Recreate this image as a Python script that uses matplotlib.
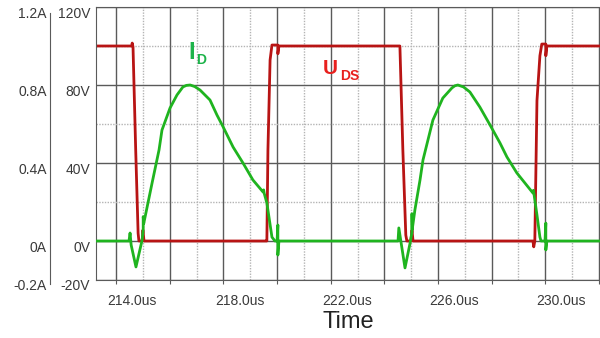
import numpy as np
import matplotlib.pyplot as plt
from matplotlib.transforms import ScaledTranslation

plt.rcParams['font.family'] = ['Liberation Sans', 'DejaVu Sans']

RED_LINE   = '#b81414'
GREEN_LINE = '#1fb41f'
RED_TEXT   = '#e8201e'
GREEN_TEXT = '#1db34a'
TEXT_COL   = '#3a3a3a'
GRID_MAJ   = '#5a5a5a'
GRID_MIN   = '#b4b4b4'

T_MIN, T_MAX = 212.65, 231.44   # us

# drain-source voltage, V
uds_t = [212.65, 213.98, 214.00, 214.03, 214.13, 214.22, 214.25, 214.37, 214.40, 214.44,
         218.99, 219.02, 219.06, 219.14, 219.21, 219.43, 219.43, 219.47,
         223.98, 224.09, 224.20, 224.24, 224.39, 224.43, 224.47,
         228.94, 228.97, 229.01, 229.09, 229.20, 229.27, 229.42, 229.42, 229.46, 231.44]
uds_v = [100, 100, 101.5, 99.5, 46.7, 4, 0, 0, 5.6, 0,
         0, 0, 46.7, 92.8, 100.5, 100.5, 96, 100,
         100, 46.7, 3, 0, 0, 5.6, 0,
         0, -3, 0, 72, 95, 101, 101, 95, 100, 100]

# drain current, A
id_t = [212.65, 213.88, 213.92, 213.96, 214.14, 214.37, 214.41, 214.41, 214.43, 214.74,
        215.00, 215.11, 215.41, 215.67, 215.89, 216.02, 216.16, 216.33, 216.53, 216.90,
        217.16, 217.39, 217.76, 218.13, 218.50, 218.88, 218.90, 218.92, 219.02, 219.21,
        219.32, 219.40, 219.43, 219.43, 219.47,
        223.91, 223.94, 224.17, 224.36, 224.43, 224.43, 224.44, 224.54, 224.73, 224.84,
        225.21, 225.58, 225.92, 226.03, 226.14, 226.35, 226.59, 226.96, 227.34, 227.71,
        227.97, 228.34, 228.94, 228.96, 228.98, 229.09, 229.20, 229.24, 229.39, 229.42,
        229.42, 229.46, 231.44]
id_a = [0, 0, 0.041, -0.02, -0.133, 0.005, 0.06, 0.125, 0.09, 0.297,
        0.467, 0.569, 0.682, 0.749, 0.79, 0.798, 0.80, 0.792, 0.774, 0.723,
        0.646, 0.585, 0.482, 0.40, 0.313, 0.251, 0.262, 0.245, 0.195, 0.02,
        0, 0, 0.082, -0.072, 0,
        0, 0.067, -0.138, -0.01, 0.046, 0.14, 0.06, 0.16, 0.313, 0.415,
        0.62, 0.733, 0.785, 0.796, 0.80, 0.79, 0.764, 0.687, 0.595, 0.503,
        0.431, 0.349, 0.246, 0.26, 0.24, 0.133, 0.02, 0, 0, 0.092,
        -0.046, 0, 0]

time_ticks = [214, 218, 222, 226, 230]
time_labels = ['{0:.1f}us'.format(t) for t in time_ticks]
volt_ticks = [120, 80, 40, 0, -20]
volt_labels = ['120V', '80V', '40V', '0V', '-20V']
amp_ticks = [1.2, 0.8, 0.4, 0, -0.2]
amp_labels = ['1.2A', '0.8A', '0.4A', '0A', '-0.2A']

fig = plt.figure(figsize=(6, 3.38), dpi=100)
ax = fig.add_axes([96/600, 58/338, 504/600, 273/338])

ax.set_xlim(T_MIN, T_MAX)
ax.set_ylim(-20, 120)

# grid: heavy lines every 2us / 40V, light dotted ones in between
ax.set_xticks(np.arange(213.4, T_MAX, 2))
ax.set_xticks(np.arange(214.4, T_MAX, 2), minor=True)
ax.set_yticks(volt_ticks)
ax.set_yticklabels(volt_labels)
ax.set_yticks([20, 60, 100], minor=True)
ax.grid(which='major', color=GRID_MAJ, lw=1.0)
ax.grid(which='minor', color=GRID_MIN, lw=1.0, ls=(0, (1, 1)))
ax.set_axisbelow(True)
ax.tick_params(axis='x', which='major', length=3, color=GRID_MAJ, labelbottom=False)
ax.tick_params(axis='x', which='minor', length=0)
ax.tick_params(axis='y', which='both', length=0, pad=4.3, labelsize=10, labelcolor=TEXT_COL)
for side in ['top', 'bottom', 'left']:
    ax.spines[side].set_color(GRID_MAJ)
ax.spines['right'].set_visible(False)

ax.plot(uds_t, uds_v, color=RED_LINE, lw=2.0, solid_joinstyle='round')

# current scale on a second axis left of the voltage one
ax2 = ax.twinx()
ax2.set_ylim(-0.2, 1.2)
ax2.yaxis.set_ticks_position('left')
ax2.yaxis.set_label_position('left')
ax2.spines['left'].set_position(('axes', -46/504))
ax2.spines['left'].set_bounds(-0.22, 1.17)
ax2.spines['left'].set_color(GRID_MAJ)
for side in ['top', 'bottom', 'right']:
    ax2.spines[side].set_visible(False)
ax2.set_yticks(amp_ticks)
ax2.set_yticklabels(amp_labels)
ax2.tick_params(axis='y', length=0, pad=2.2, labelsize=10, labelcolor=TEXT_COL)

ax2.plot(id_t, id_a, color=GREEN_LINE, lw=2.0, solid_joinstyle='round')

# y labels sit a little below their grid lines
shift = ScaledTranslation(0, -5/100, fig.dpi_scale_trans)
for lbl in ax.get_yticklabels() + ax2.get_yticklabels():
    lbl.set_transform(lbl.get_transform() + shift)

secax = ax.secondary_xaxis('bottom')
secax.set_xticks(time_ticks)
secax.set_xticklabels(time_labels)
secax.tick_params(length=0, pad=10, labelsize=10, labelcolor=TEXT_COL)
secax.spines['bottom'].set_visible(False)
secax.set_xlabel('Time', fontsize=17, color='#222222', labelpad=2)

ax.text(216.08, 93.3, 'I', color=GREEN_TEXT, fontsize=17, fontweight='bold', va='baseline')
ax.text(216.38, 90.8, 'D', color=GREEN_TEXT, fontsize=10, fontweight='bold', va='baseline')
ax.text(221.11, 85.6, 'U', color=RED_TEXT, fontsize=15, fontweight='bold', va='baseline')
ax.text(221.75, 82.6, 'DS', color=RED_TEXT, fontsize=10, fontweight='bold', va='baseline')

fig.savefig('out.png', dpi=100)
